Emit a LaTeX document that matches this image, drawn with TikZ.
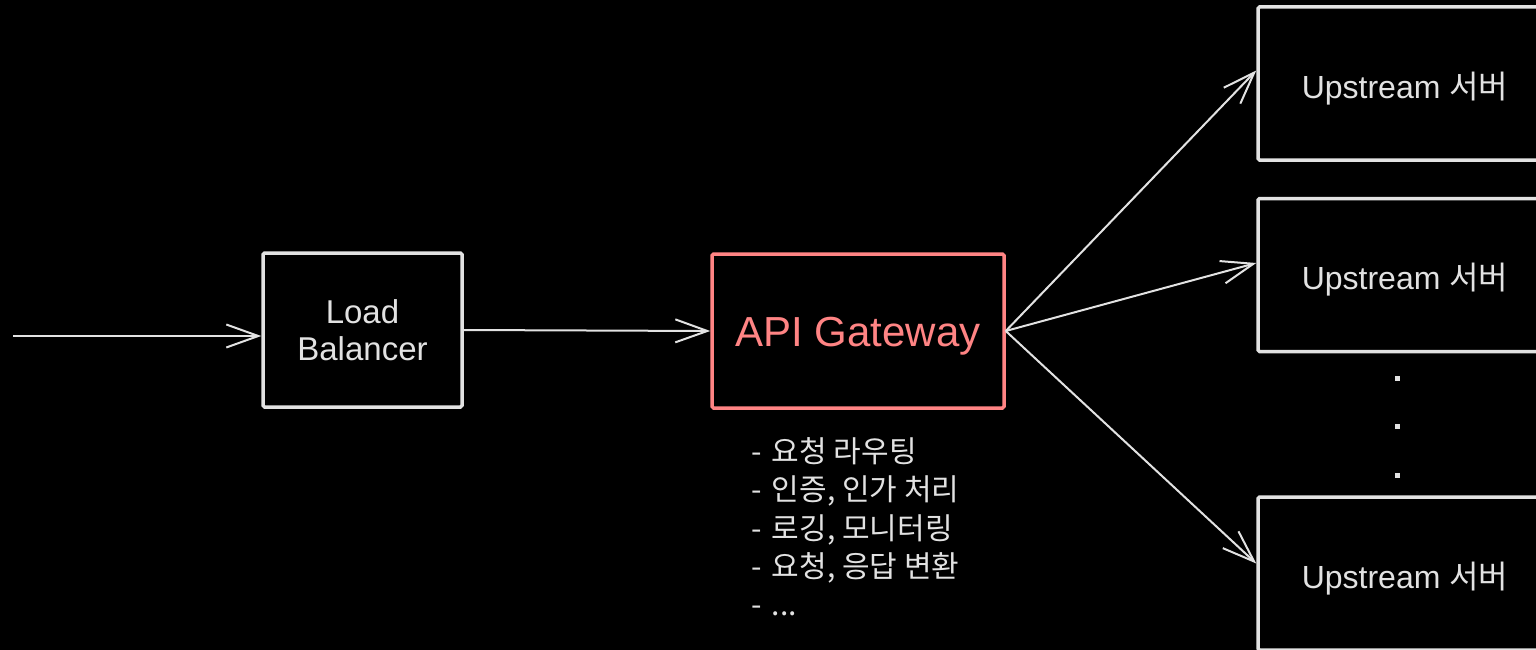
\documentclass[tikz,border=0pt]{standalone}
\usepackage{fontspec}
\setmainfont{Liberation Sans}
\newfontfamily\kr{Noto Sans CJK KR}
\usetikzlibrary{arrows.meta}
\definecolor{ln}{HTML}{E2E2E2}
\definecolor{gwred}{HTML}{FF8484}
\newcommand\lowtext[1]{\raisebox{-5pt}[\height][\depth]{#1}}

\begin{document}
\begin{tikzpicture}[x=1pt,y=-1pt,
   box/.style={draw=ln,line width=3.5pt,rounded corners=1.5pt,text=ln,align=center,inner sep=0pt,
     minimum width=199pt,minimum height=154pt,font=\fontsize{33}{37}\selectfont},
   upbox/.style={box,minimum width=294pt,minimum height=153pt,font=\fontsize{32}{36}\selectfont},
   link/.style={draw=ln,line width=2pt,-{Straight Barb[length=32pt,width=23pt,line width=2pt]}}]
   \fill[black] (0,0) rectangle (1536,650);
   \useasboundingbox (0,0) rectangle (1536,650);
   % main chain
   \coordinate (in) at (13,336);
   \node[box] (lb) at (362.5,330) {Load\\Balancer};
   \node[box,draw=gwred,text=gwred,minimum width=292pt,font=\fontsize{42}{46}\selectfont] (gw) at (858,331) {\lowtext{API Gateway}};
   \node[anchor=north west,text=ln,align=left,font=\kr\fontsize{30}{38.3}\selectfont] (feat) at (748,434)
      {-\,\,요청 라우팅\\-\,\,인증, 인가 처리\\-\,\,로깅, 모니터링\\-\,\,요청, 응답 변환\\-\,\,...};
   % upstream servers
   \node[upbox] (up1) at (1405,83.5) {\lowtext{Upstream {\kr 서버}}};
   \node[upbox] (up2) at (1405,275) {\lowtext{Upstream {\kr 서버}}};
   \node[upbox] (up3) at (1405,573.5) {\lowtext{Upstream {\kr 서버}}};
   \foreach \y in {378,426,475}
      \fill[ln] (1394.5,\y-2.5) rectangle +(5,5);
   % arrows
   \draw[link] (in) -- (in -| lb.west);
   \draw[link] (lb.east) -- (gw.west);
   \draw[link] (gw.east) -- ([yshift=13pt]up1.west);
   \draw[link] (gw.east) -- ([yshift=12pt]up2.west);
   \draw[link] (gw.east) -- ([yshift=10pt]up3.west);
\end{tikzpicture}
\end{document}
